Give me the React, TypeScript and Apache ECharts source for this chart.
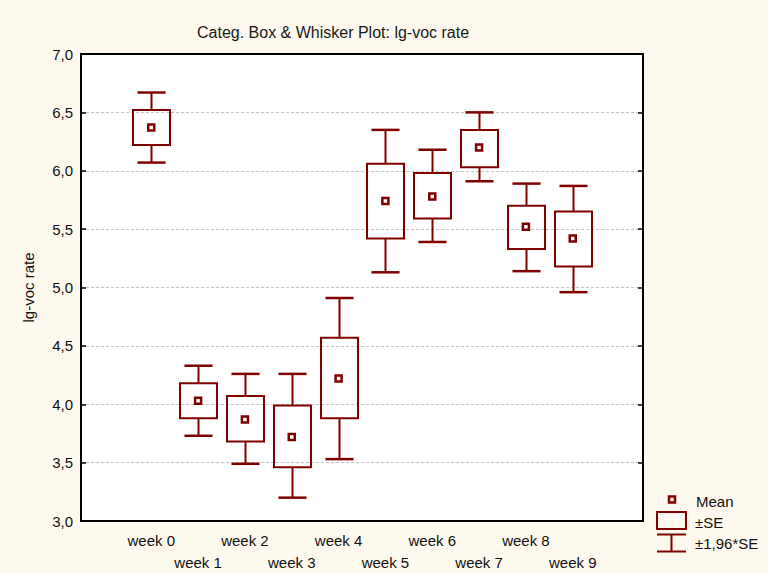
import React, { useEffect, useRef } from 'react';
import * as echarts from 'echarts';

const categories = ['week 0', 'week 1', 'week 2', 'week 3', 'week 4', 'week 5', 'week 6', 'week 7', 'week 8', 'week 9'];
const means = [6.37, 4.03, 3.87, 3.72, 4.22, 5.74, 5.78, 6.2, 5.52, 5.42];
const seHigh = [6.52, 4.18, 4.07, 3.99, 4.57, 6.06, 5.98, 6.35, 5.7, 5.65];
const seLow = [6.22, 3.88, 3.68, 3.46, 3.88, 5.42, 5.59, 6.03, 5.33, 5.18];
const ciHigh = [6.67, 4.33, 4.26, 4.26, 4.91, 6.35, 6.18, 6.5, 5.89, 5.87];
const ciLow = [6.07, 3.73, 3.49, 3.2, 3.53, 5.13, 5.39, 5.91, 5.14, 4.96];
const yTicks = { min: 3, max: 7, interval: 0.5 };
const legendLabels = ['Mean', '±SE', '±1,96*SE'];

const RED = '#800000';
const FONT = "'Liberation Sans', Arial, sans-serif";

export default function App() {
  const ref = useRef<HTMLDivElement>(null);
  useEffect(() => {
    const chart = echarts.init(ref.current as HTMLDivElement, null, { renderer: 'svg' });
    const axisCats = ['', ...categories, ''];
    const boxData = categories.map((_, i) => [i + 1, ciLow[i], seLow[i], seHigh[i], ciHigh[i]]);
    const meanData = categories.map((_, i) => [i + 1, means[i]]);
    const lineStyle = { stroke: RED, lineWidth: 2 };

    chart.setOption({
      animation: false,
      backgroundColor: '#fdf9ee',
      textStyle: { fontFamily: FONT },
      title: {
        text: 'Categ. Box & Whisker Plot: lg-voc rate',
        left: 192,
        top: 19,
        textStyle: { fontSize: 16, fontWeight: 'normal', color: '#1a1a1a', fontFamily: FONT },
      },
      grid: {
        left: 81, right: 125, top: 54, bottom: 52,
        show: true, backgroundColor: '#ffffff', borderWidth: 0,
        outerBoundsMode: 'none',
      },
      xAxis: [
        {
          type: 'category', data: axisCats, boundaryGap: true, position: 'bottom',
          axisLine: { lineStyle: { color: '#000', width: 2 } },
          axisTick: { inside: true, alignWithLabel: true, length: 5, lineStyle: { color: '#000', width: 1.5 } },
          axisLabel: {
            interval: 0, margin: 8, fontSize: 15, lineHeight: 22, color: '#111', fontFamily: FONT,
            formatter: (v: string, idx: number) => (idx % 2 === 0 ? '\n' + v : v),
          },
          splitLine: { show: false },
        },
        {
          type: 'category', data: axisCats, boundaryGap: true, position: 'top',
          axisLine: { lineStyle: { color: '#000', width: 2 } },
          axisTick: { inside: true, alignWithLabel: true, length: 5, lineStyle: { color: '#000', width: 1.5 } },
          axisLabel: { show: false },
          splitLine: { show: false },
        },
      ],
      yAxis: [
        {
          type: 'value', ...yTicks, position: 'left',
          name: 'lg-voc rate', nameLocation: 'middle', nameGap: 45,
          nameTextStyle: { fontSize: 15, color: '#111', fontFamily: FONT },
          axisLine: { show: true, lineStyle: { color: '#000', width: 2 } },
          axisTick: { show: true, inside: true, length: 5, lineStyle: { color: '#000', width: 1.5 } },
          axisLabel: {
            margin: 8, fontSize: 15, color: '#111', fontFamily: FONT,
            formatter: (v: number) => v.toFixed(1).replace('.', ','),
          },
          splitLine: { show: true, lineStyle: { color: '#c4c4c4', width: 1, type: [3, 2] } },
        },
        {
          type: 'value', ...yTicks, position: 'right',
          axisLine: { show: true, lineStyle: { color: '#000', width: 2 } },
          axisTick: { show: true, inside: true, length: 5, lineStyle: { color: '#000', width: 1.5 } },
          axisLabel: { show: false },
          splitLine: { show: false },
        },
      ],
      series: [
        {
          type: 'custom',
          xAxisIndex: 0, yAxisIndex: 0,
          encode: { x: 0, y: [1, 2, 3, 4] },
          data: boxData,
          renderItem: (params: any, api: any) => {
            const x = api.value(0);
            const wl = api.coord([x, api.value(1)]);
            const bl = api.coord([x, api.value(2)]);
            const bh = api.coord([x, api.value(3)]);
            const wh = api.coord([x, api.value(4)]);
            const band = api.size([1, 0])[0];
            const boxW = band * 0.79;
            const capW = band * 0.6;
            const cx = Math.round(wl[0]) + 0.5;
            return {
              type: 'group',
              children: [
                { type: 'line', shape: { x1: cx, y1: wh[1], x2: cx, y2: bh[1] }, style: lineStyle },
                { type: 'line', shape: { x1: cx, y1: bl[1], x2: cx, y2: wl[1] }, style: lineStyle },
                { type: 'line', shape: { x1: cx - capW / 2, y1: wh[1], x2: cx + capW / 2, y2: wh[1] }, style: { ...lineStyle, lineWidth: 2.5 } },
                { type: 'line', shape: { x1: cx - capW / 2, y1: wl[1], x2: cx + capW / 2, y2: wl[1] }, style: { ...lineStyle, lineWidth: 2.5 } },
                {
                  type: 'rect',
                  shape: { x: cx - boxW / 2, y: bh[1], width: boxW, height: bl[1] - bh[1] },
                  style: { fill: 'rgba(0,0,0,0)', stroke: RED, lineWidth: 2 },
                },
              ],
            };
          },
          z: 2,
        },
        {
          type: 'scatter',
          xAxisIndex: 0, yAxisIndex: 0,
          data: meanData,
          symbol: 'rect',
          symbolSize: 6,
          itemStyle: { color: '#ffffff', borderColor: RED, borderWidth: 2.5, opacity: 1 },
          z: 3,
        },
      ],
      graphic: [
        { type: 'rect', shape: { x: 669, y: 496.5, width: 6, height: 6 }, style: { fill: '#fff', stroke: RED, lineWidth: 2.5 } },
        { type: 'text', x: 696, y: 501, style: { text: legendLabels[0], fontSize: 15, fill: '#111', font: `15px ${FONT}`, verticalAlign: 'middle' } },
        { type: 'rect', shape: { x: 657, y: 512, width: 29, height: 17 }, style: { fill: 'rgba(0,0,0,0)', stroke: RED, lineWidth: 2 } },
        { type: 'text', x: 695, y: 522.5, style: { text: legendLabels[1], fontSize: 15, fill: '#111', font: `15px ${FONT}`, verticalAlign: 'middle' } },
        { type: 'line', shape: { x1: 657, y1: 534.5, x2: 686, y2: 534.5 }, style: { stroke: RED, lineWidth: 2 } },
        { type: 'line', shape: { x1: 657, y1: 551.5, x2: 686, y2: 551.5 }, style: { stroke: RED, lineWidth: 2 } },
        { type: 'line', shape: { x1: 671.5, y1: 534.5, x2: 671.5, y2: 551.5 }, style: { stroke: RED, lineWidth: 2 } },
        { type: 'text', x: 695, y: 543, style: { text: legendLabels[2], fontSize: 15, fill: '#111', font: `15px ${FONT}`, verticalAlign: 'middle' } },
      ],
    });
    return () => chart.dispose();
  }, []);
  return (
    <div
      ref={ref}
      style={{ position: 'absolute', left: 0, top: 0, width: 768, height: 573, background: '#fdf9ee' }}
    />
  );
}
